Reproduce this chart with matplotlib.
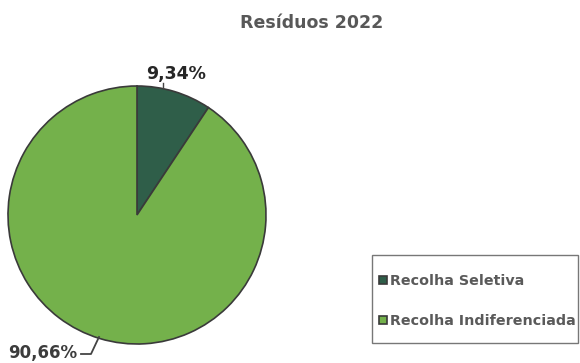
import matplotlib
matplotlib.use("Agg")
import matplotlib.pyplot as plt
from matplotlib.patches import Rectangle

plt.rcParams["font.family"] = ["DejaVu Sans"]

# Resíduos recolhidos em 2022 (%)
categories = ["Recolha Seletiva", "Recolha Indiferenciada"]
values = [9.34, 90.66]
colors = ["#2f5e49", "#74b14b"]
title = "Resíduos 2022"

W, H = 580, 363
fig = plt.figure(figsize=(W / 100, H / 100), dpi=100)
fig.patch.set_facecolor("white")

# pie axes: centre (137, 215) px, radius 129 px
cx, cy, r = 137, 215, 129
ax = fig.add_axes([(cx - r) / W, (H - cy - r) / H, 2 * r / W, 2 * r / H])
wedges, _ = ax.pie(values, colors=colors, startangle=90, counterclock=False,
                   radius=1.0,
                   wedgeprops=dict(edgecolor="#3a3a3a", linewidth=1.2))
ax.set_xlim(-1, 1)
ax.set_ylim(-1, 1)
ax.set_aspect("equal")
ax.axis("off")


def px(x, y):
    return ((x - cx) / r, (cy - y) / r)


def fmt(v):
    return f"{v:.2f}%".replace(".", ",")


# percentage labels with short leader lines
ax.text(*px(176, 74), fmt(values[0]), ha="center", va="center",
        fontsize=12.5, fontweight="bold", color="#262626", clip_on=False)
ax.plot(*zip(px(163, 83), px(163, 88)), color="#444444", lw=1, clip_on=False)

ax.text(*px(43, 353), fmt(values[1]), ha="center", va="center",
        fontsize=12, fontweight="bold", color="#3c3c3c", clip_on=False)
ax.plot(*zip(px(81, 354), px(91, 354), px(99, 337)), color="#444444",
        lw=1.3, clip_on=False)

fig.text(312 / W, 1 - 23 / H, title, ha="center", va="center",
         fontsize=12.5, fontweight="bold", color="#585858")

# legend box drawn separately so the entries can sit loosely inside it
fig.patches.append(Rectangle((372 / W, 1 - 343 / H), 206 / W, 88 / H,
                             transform=fig.transFigure, fill=False,
                             edgecolor="#777777", linewidth=1.0))
leg = fig.legend(wedges, categories, loc="center left",
                 bbox_to_anchor=(379 / W, 1 - 301 / H),
                 frameon=False, fontsize=10.3, labelspacing=1.8,
                 handlelength=0.55, handleheight=0.55, handletextpad=0.25,
                 borderpad=0, borderaxespad=0)
for t in leg.get_texts():
    t.set_color("#5a5a5a")
    t.set_fontweight("bold")

fig.savefig("out.png", dpi=100)
